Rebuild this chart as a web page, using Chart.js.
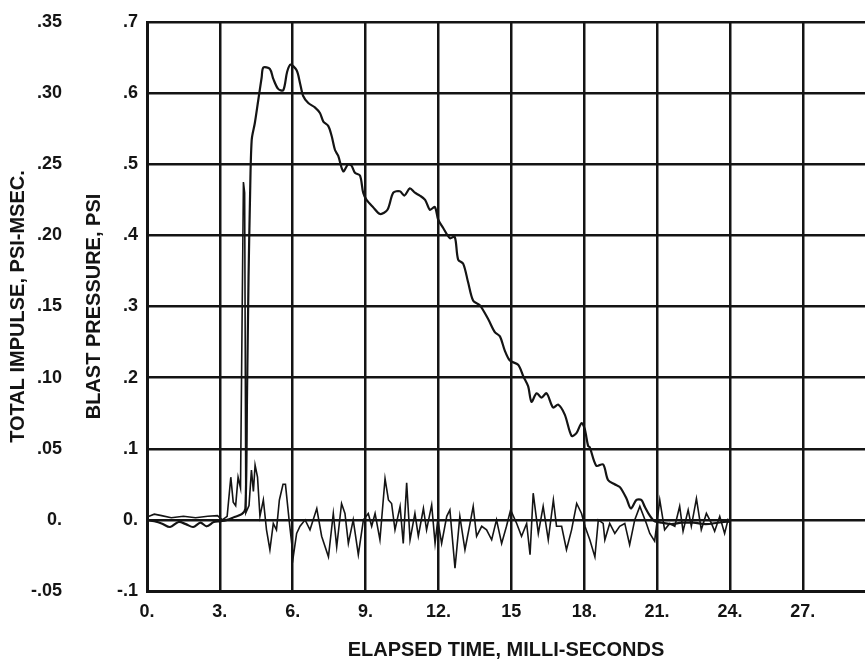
<!DOCTYPE html>
<html><head><meta charset="utf-8">
<script src="https://cdn.jsdelivr.net/npm/chart.js@4.4.1/dist/chart.umd.min.js"></script>
<style>html,body{margin:0;padding:0;background:#fff}#wrap{width:865px;height:662px;position:relative}</style>
</head><body><div id="wrap"><canvas id="c"></canvas></div>
<script>
// ---- Tick labels ----
const xTickValues = [0, 3, 6, 9, 12, 15, 18, 21, 24, 27];
const xTickLabels = ["0.", "3.", "6.", "9.", "12.", "15", "18.", "21.", "24.", "27."];
const pressureTickValues = [-0.1, 0, 0.1, 0.2, 0.3, 0.4, 0.5, 0.6, 0.7];
const pressureTickLabels = ["-.1", "0.", ".1", ".2", ".3", ".4", ".5", ".6", ".7"];
const impulseTickValues = [-0.05, 0, 0.05, 0.10, 0.15, 0.20, 0.25, 0.30, 0.35];
const impulseTickLabels = ["-.05", "0.", ".05", ".10", ".15", ".20", ".25", ".30", ".35"];

// ---- Total impulse (psi-msec) vs elapsed time (ms) ----
const impulseTime = [0, 0.3, 0.6, 0.95, 1.3, 1.6, 1.9, 2.2, 2.46, 2.75, 3.0, 3.3, 3.6, 3.9, 4.05, 4.12, 4.18, 4.24, 4.31, 4.44, 4.58, 4.72, 4.79, 5.06, 5.2, 5.4, 5.61, 5.77, 5.91, 6.16, 6.3, 6.43, 6.64, 6.91, 7.12, 7.26, 7.46, 7.6, 7.74, 7.87, 8.08, 8.28, 8.42, 8.56, 8.77, 8.9, 9.04, 9.3, 9.6, 9.9, 10.14, 10.41, 10.6, 10.82, 11.03, 11.23, 11.45, 11.65, 11.85, 11.99, 12.2, 12.47, 12.67, 12.81, 13.02, 13.22, 13.43, 13.7, 14.05, 14.32, 14.53, 14.73, 14.94, 15.28, 15.49, 15.69, 15.83, 16.04, 16.24, 16.45, 16.72, 16.93, 17.2, 17.48, 17.68, 17.89, 18.02, 18.16, 18.23, 18.5, 18.78, 18.98, 19.25, 19.47, 19.74, 19.92, 20.15, 20.35, 20.5, 20.7, 20.9, 21.2, 21.6, 22.0, 22.5, 23.0, 23.5, 24.0];
const impulseValue = [0.0, -0.001, -0.0025, -0.005, -0.0015, -0.003, -0.005, -0.002, -0.0045, -0.0015, -0.001, 0.0, 0.002, 0.004, 0.008, 0.09, 0.17, 0.225, 0.267, 0.279, 0.295, 0.311, 0.318, 0.317, 0.31, 0.303, 0.302, 0.315, 0.32, 0.316, 0.307, 0.298, 0.293, 0.29, 0.286, 0.28, 0.277, 0.27, 0.26, 0.256, 0.245, 0.25, 0.249, 0.244, 0.242, 0.23, 0.225, 0.22, 0.215, 0.218, 0.23, 0.231, 0.228, 0.233, 0.23, 0.228, 0.225, 0.218, 0.22, 0.211, 0.205, 0.198, 0.199, 0.183, 0.18, 0.167, 0.154, 0.151, 0.141, 0.132, 0.129, 0.119, 0.112, 0.109, 0.101, 0.094, 0.083, 0.089, 0.086, 0.089, 0.079, 0.081, 0.074, 0.059, 0.061, 0.068, 0.064, 0.052, 0.051, 0.038, 0.039, 0.028, 0.025, 0.023, 0.015, 0.008, 0.014, 0.014, 0.009, 0.003, -0.001, -0.002, -0.003, -0.002, -0.002, -0.003, -0.002, -0.001];

// ---- Blast pressure (psi) vs elapsed time (ms) ----
const pressureTime = [0, 0.3, 0.6, 1.0, 1.5, 2.0, 2.5, 2.9, 3.1, 3.3, 3.45, 3.55, 3.65, 3.75, 3.85, 3.92, 3.97, 4.02, 4.07, 4.2, 4.3, 4.38, 4.45, 4.55, 4.65, 4.79, 4.92, 5.06, 5.2, 5.33, 5.45, 5.6, 5.7, 5.85, 6.02, 6.16, 6.3, 6.51, 6.71, 6.99, 7.19, 7.47, 7.67, 7.81, 8.01, 8.15, 8.29, 8.49, 8.7, 8.91, 9.11, 9.25, 9.39, 9.59, 9.8, 9.94, 10.07, 10.21, 10.42, 10.55, 10.69, 10.83, 11.03, 11.17, 11.38, 11.51, 11.72, 11.86, 11.97, 12.13, 12.34, 12.47, 12.68, 12.88, 13.09, 13.3, 13.43, 13.57, 13.78, 13.98, 14.19, 14.39, 14.6, 14.8, 14.97, 15.22, 15.42, 15.63, 15.77, 15.9, 16.11, 16.31, 16.52, 16.73, 16.86, 17.07, 17.27, 17.48, 17.69, 17.89, 18.03, 18.23, 18.44, 18.58, 18.78, 18.85, 19.05, 19.26, 19.46, 19.67, 19.87, 20.08, 20.29, 20.56, 20.7, 20.9, 21.11, 21.31, 21.52, 21.73, 21.93, 22.07, 22.28, 22.41, 22.62, 22.82, 23.03, 23.24, 23.37, 23.58, 23.78, 23.92, 24.0];
const pressureValue = [0.004, 0.008, 0.006, 0.003, 0.005, 0.003, 0.005, 0.006, 0.0, 0.005, 0.06, 0.025, 0.02, 0.06, 0.045, 0.3, 0.475, 0.46, 0.01, 0.02, 0.07, 0.04, 0.077, 0.06, 0.005, 0.028, -0.014, -0.042, -0.005, -0.014, 0.028, 0.05, 0.05, 0.0, -0.052, -0.019, -0.009, 0.0, -0.014, 0.016, -0.023, -0.052, 0.009, -0.038, 0.023, 0.009, -0.033, 0.0, -0.049, 0.0, 0.009, -0.009, 0.009, -0.028, 0.058, 0.028, 0.023, -0.014, 0.019, -0.033, 0.052, -0.028, 0.009, -0.023, 0.016, -0.014, 0.021, -0.033, 0.0, -0.033, 0.005, 0.014, -0.068, 0.005, -0.042, -0.005, 0.019, -0.023, -0.009, -0.014, -0.028, 0.0, -0.033, -0.009, 0.014, -0.005, -0.023, -0.005, -0.049, 0.0375, -0.019, 0.019, -0.028, 0.028, -0.009, -0.009, -0.042, -0.014, 0.023, 0.009, -0.009, -0.028, -0.052, 0.0, -0.005, -0.028, -0.005, -0.019, -0.009, -0.005, -0.035, 0.0, 0.019, -0.005, -0.019, -0.030, 0.028, -0.014, -0.005, -0.009, 0.019, -0.016, 0.014, -0.009, 0.030, -0.014, 0.009, -0.005, -0.016, 0.005, -0.019, 0.0, -0.005];

const INK = '#141414';
const FONT = "'Liberation Sans', Arial, Helvetica, sans-serif";
const tickFont = { family: FONT, size: 18, weight: 'bold' };
const titleFont = { family: FONT, size: 20, weight: 'bold' };

const impulseData = impulseTime.map((t, i) => ({ x: t, y: impulseValue[i] }));
const pressureData = pressureTime.map((t, i) => ({ x: t, y: pressureValue[i] }));

const whiteBg = {
  id: 'whiteBg',
  beforeDraw(chart) {
    const c = chart.ctx;
    c.save(); c.fillStyle = '#fff'; c.fillRect(0, 0, chart.width, chart.height); c.restore();
  }
};

new Chart(document.getElementById('c'), {
  type: 'line',
  data: {
    datasets: [
      { label: 'Total impulse', data: impulseData, yAxisID: 'yImp', borderColor: INK, borderWidth: 2.2, pointRadius: 0, tension: 0.3, fill: false },
      { label: 'Blast pressure', data: pressureData, yAxisID: 'y', borderColor: INK, borderWidth: 1.6, pointRadius: 0, tension: 0, fill: false }
    ]
  },
  options: {
    responsive: true,
    maintainAspectRatio: false,
    animation: false,
    layout: { padding: { top: 22, right: 0, bottom: 0, left: 0 } },
    plugins: { legend: { display: false }, tooltip: { enabled: false } },
    scales: {
      x: {
        type: 'linear', min: 0, max: 29.56,
        afterBuildTicks: s => { s.ticks = xTickValues.map(v => ({ value: v })); },
        ticks: {
          callback: (v) => { const i = xTickValues.indexOf(v); return i >= 0 ? xTickLabels[i] : ''; },
          font: tickFont, color: INK, padding: 10, maxRotation: 0, autoSkip: false
        },
        grid: { color: INK, lineWidth: 2.5, drawTicks: false },
        border: { color: INK, width: 3 },
        title: { display: true, text: 'ELAPSED TIME, MILLI-SECONDS', font: titleFont, color: INK, padding: { top: 0, bottom: 0 } },
        afterFit: s => { s.height = 71; s.paddingLeft = 0; s.paddingRight = 0; }
      },
      y: {
        position: 'left', weight: 0, min: -0.1, max: 0.7,
        afterBuildTicks: s => { s.ticks = pressureTickValues.map(v => ({ value: v })); },
        ticks: { callback: (v, i) => pressureTickLabels[i], font: tickFont, color: INK, padding: 9, autoSkip: false },
        grid: { color: INK, lineWidth: 2.5, drawTicks: false },
        border: { color: INK, width: 3 },
        title: { display: true, text: 'BLAST PRESSURE, PSI', font: titleFont, color: INK, padding: { top: 0, bottom: 0 } },
        afterFit: s => { s.width = 65; s.paddingTop = 0; s.paddingBottom = 0; }
      },
      yImp: {
        position: 'left', weight: 1, min: -0.05, max: 0.35,
        afterBuildTicks: s => { s.ticks = impulseTickValues.map(v => ({ value: v })); },
        ticks: { callback: (v, i) => impulseTickLabels[i], font: tickFont, color: INK, padding: 20, autoSkip: false },
        grid: { display: false, drawTicks: false },
        border: { display: false },
        title: { display: true, text: 'TOTAL IMPULSE, PSI-MSEC.', font: titleFont, color: INK, padding: { top: 6, bottom: 0 } },
        afterFit: s => { s.width = 82; s.paddingTop = 0; s.paddingBottom = 0; }
      }
    }
  },
  plugins: [whiteBg]
});
</script>
</body></html>
